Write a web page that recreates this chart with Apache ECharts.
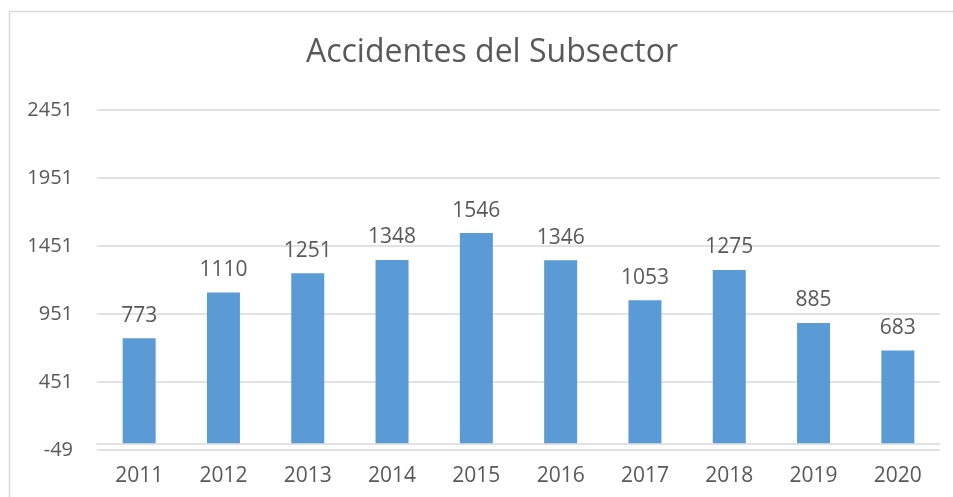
<!DOCTYPE html>
<html>
<head>
<meta charset="utf-8">
<script src="https://cdn.jsdelivr.net/npm/echarts@6/dist/echarts.min.js"></script>
<style>
  html, body { margin: 0; padding: 0; background: #fff; }
  #chart { width: 953px; height: 497px; }
</style>
</head>
<body>
<div id="chart"></div>
<script>
const years = ["2011", "2012", "2013", "2014", "2015", "2016", "2017", "2018", "2019", "2020"];
const accidents = [773, 1110, 1251, 1348, 1546, 1346, 1053, 1275, 885, 683];
const yTicks = [-49, 451, 951, 1451, 1951, 2451];

const chart = echarts.init(document.getElementById("chart"));
const textColor = "#595959";
const font = "'Open Sans', sans-serif";

chart.setOption({
  animation: false,
  title: {
    text: "Accidentes del Subsector",
    left: 487,
    top: 32,
    textAlign: "center",
    textStyle: { fontFamily: font, fontSize: 32, fontWeight: "normal", color: textColor }
  },
  graphic: [{
    type: "rect",
    shape: { x: 9.5, y: 11.5, width: 1100, height: 700 },
    style: { fill: "none", stroke: "#d9d9d9", lineWidth: 1.5 },
    silent: true
  }],
  grid: { left: 97, right: 13, top: 110, bottom: 47, containLabel: false },
  xAxis: {
    type: "category",
    data: years,
    axisLine: { onZero: true, lineStyle: { color: "#d9d9d9", width: 1.5 } },
    axisTick: { show: false },
    axisLabel: { color: textColor, fontFamily: font, fontSize: 21, margin: 16 }
  },
  yAxis: {
    type: "value",
    min: yTicks[0],
    max: yTicks[yTicks.length - 1],
    interval: yTicks[1] - yTicks[0],
    axisLine: { show: false },
    axisTick: { show: false },
    splitLine: { lineStyle: { color: "#d9d9d9", width: 1.5 } },
    axisLabel: {
      color: textColor, fontFamily: font, fontSize: 20, margin: 24,
      formatter: (v) => String(v)
    }
  },
  series: [{
    type: "bar",
    data: accidents,
    barWidth: 33,
    itemStyle: { color: "#5b9bd5" },
    label: {
      show: true,
      position: "top",
      distance: 12,
      color: textColor,
      fontFamily: font,
      fontSize: 21
    }
  }]
});
</script>
</body>
</html>
